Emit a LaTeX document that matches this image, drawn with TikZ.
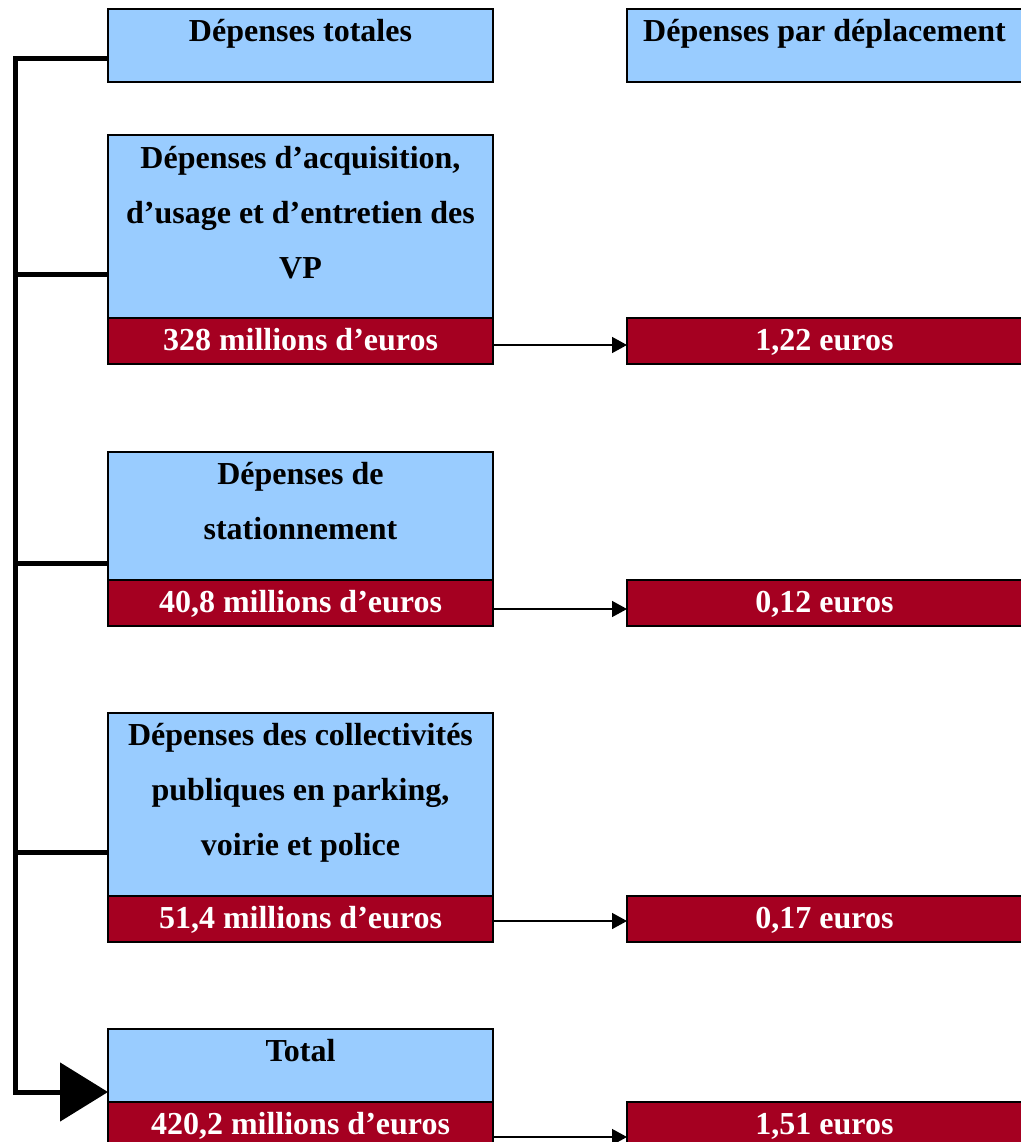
\documentclass[tikz,border=0pt]{standalone}
\usepackage{fontspec}
\setmainfont{Liberation Serif}
\usetikzlibrary{arrows.meta}
\definecolor{catblue}{HTML}{99CCFF}
\definecolor{valred}{HTML}{A50021}
\tikzset{
  /tikz/.cd,
  catbox/.style={draw,line width=2pt,fill=catblue,anchor=north west,inner sep=0pt,outer sep=0pt,minimum width=385pt},
  valbox/.style={draw,line width=2pt,fill=valred,text=white,anchor=north west,inner sep=0pt,outer sep=0pt,
                 minimum width=385pt,minimum height=46pt,text height=24pt,text depth=6pt,
                 font=\bfseries\fontsize{32}{38}\selectfont}
}
\begin{document}
\begin{tikzpicture}[x=1pt,y=-1pt,
                    cattext/.style={anchor=base,text width=380pt,align=flush center,inner sep=0pt,
                                    font=\bfseries\fontsize{32}{55}\selectfont},
                    rightbox/.style={minimum width=395pt},
                    link/.style={line width=1.5pt,-{Triangle[length=15pt,width=16pt]}},
                    spine/.style={line width=5pt}]
      \useasboundingbox (0,0) rectangle (1020,1142);

      \node[catbox,minimum height=73pt] (tot) at (108,9) {};
      \node[catbox,rightbox,minimum height=73pt] (dep) at (627,9) {};
      \node[cattext] (tott) at ([yshift=-33pt]tot.north) {Dépenses totales};
      \node[cattext] (dept) at ([yshift=-33pt]dep.north) {Dépenses par déplacement};

      \node[catbox,minimum height=183pt] (vp) at (108,135) {};
      \node[cattext] (vpt) at ([yshift=-33pt]vp.north) {Dépenses d’acquisition,\\d’usage et d’entretien des\\VP};
      \node[valbox] (vpv) at (vp.south west) {328 millions d’euros};
      \node[valbox,rightbox] (vpd) at (627,318) {1,22 euros};

      \node[catbox,minimum height=128pt] (st) at (108,452) {};
      \node[cattext] (stt) at ([yshift=-32pt]st.north) {Dépenses de\\stationnement};
      \node[valbox] (stv) at (st.south west) {40,8 millions d’euros};
      \node[valbox,rightbox] (std) at (627,580) {0,12 euros};

      \node[catbox,minimum height=183pt] (co) at (108,713) {};
      \node[cattext] (cot) at ([yshift=-32pt]co.north) {Dépenses des collectivités\\publiques en parking,\\voirie et police};
      \node[valbox] (cov) at (co.south west) {51,4 millions d’euros};
      \node[valbox,rightbox] (cod) at (627,896) {0,17 euros};

      \node[catbox,minimum height=73pt] (to) at (108,1029) {};
      \node[cattext] (tot5) at ([yshift=-32pt]to.north) {Total};
      \node[valbox] (tov) at (to.south west) {420,2 millions d’euros};
      \node[valbox,rightbox] (tod) at (627,1102) {1,51 euros};

      \draw[link] ([yshift=-4pt]vpv.east) -- ([yshift=-4pt]vpd.west);
      \draw[link] ([yshift=-6pt]stv.east) -- ([yshift=-6pt]std.west);
      \draw[link] ([yshift=-2pt]cov.east) -- ([yshift=-2pt]cod.west);
      \draw[link] ([yshift=-12pt]tov.east) -- ([yshift=-12pt]tod.west);

      \draw[spine,-{Triangle[length=48pt,width=58pt]}] ([yshift=-13.5pt]tot.west) -| ([xshift=-93pt,yshift=-26.5pt]to.west) -- ([yshift=-26.5pt]to.west);
      \draw[spine] ([yshift=-47.5pt]vp.west) -- ++(-93,0);
      \draw[spine] ([yshift=-47pt]st.west) -- ++(-93,0);
      \draw[spine] ([yshift=-47.5pt]co.west) -- ++(-93,0);
    \end{tikzpicture}
\end{document}
